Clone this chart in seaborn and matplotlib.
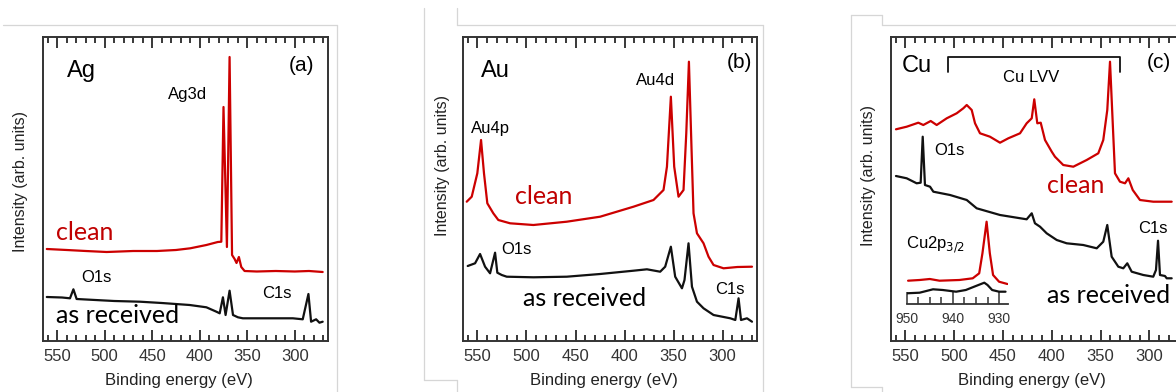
import matplotlib
matplotlib.use("Agg")
import matplotlib.pyplot as plt
import seaborn as sns
from matplotlib.lines import Line2D
from matplotlib.ticker import MultipleLocator, FixedLocator

# Estilo general
sns.set_style("ticks")
plt.rcParams['font.family'] = ['Liberation Sans', 'DejaVu Sans']
plt.rcParams.update({
    'xtick.top': True, 'xtick.bottom': True, 'xtick.direction': 'in',
    'xtick.major.size': 8, 'xtick.minor.size': 4.5,
    'xtick.major.width': 1.1, 'xtick.minor.width': 1.1,
    'xtick.color': '#333333', 'xtick.major.pad': 6, 'xtick.labelsize': 12,
})

ROJO = '#cc0000'
NEGRO = '#111111'
GRIS = '#333333'

# ---- datos (energia de enlace eV, intensidad u.a.) ----
ag_clean_e = [561, 540, 520, 498, 470, 445, 425, 410, 393, 381, 377.3, 375, 371.4,
              368.6, 366, 363.3, 361.3, 358.8, 356.3, 352.8, 340, 320, 300, 285, 270.6]
ag_clean_i = [92, 91, 90, 89, 90, 90, 91, 92.7, 96, 99, 99.3, 234, 94,
              284, 86, 82, 78, 84, 74, 70, 69.5, 70, 69.5, 70, 69]
ag_recv_e = [561, 545, 536.6, 533, 529.6, 510, 490, 463, 440, 410.6, 393, 382.5, 379,
             375.6, 372.8, 368.6, 365, 359.8, 354.6, 330, 302, 291.6, 285.6, 282.8,
             277.5, 274, 270.6]
ag_recv_i = [44, 43.5, 42.7, 51.7, 42, 41, 40, 39.3, 38, 36, 33.7, 29.3, 27.7,
             43.7, 26, 50.3, 26, 23.7, 22.7, 22.7, 22.7, 21.7, 47, 19.3,
             21.7, 18.3, 19.3]

au_clean_e = [560.9, 555.8, 550.1, 546.3, 543.3, 539.9, 533.8, 528.7, 516.7, 493,
              458.9, 424.9, 390.9, 370.5, 360.3, 356.8, 352.8, 349.4, 345, 339.9,
              337.1, 334.4, 331.7, 329.7, 326.2, 319.5, 314.4, 309.3, 299.1, 285, 270.1]
au_clean_i = [139.3, 144.3, 167.7, 201, 167.7, 137.7, 127.7, 121, 117.7, 116,
              119.3, 124.3, 134.3, 141, 151, 174.3, 244.3, 174.3, 144.3, 151,
              207.7, 279.3, 191, 127.7, 107.7, 97.7, 84.3, 76, 72.7, 74, 74.3]
au_recv_e = [559.9, 552.4, 547.3, 542.2, 537.1, 532, 529.7, 525.2, 520.1, 492.9,
             458.9, 424.9, 390.9, 377.2, 363.7, 358.6, 352.8, 348.4, 341.5, 338.9,
             334.8, 331.3, 326.2, 319.5, 309.3, 292.2, 287.1, 283.8, 281.3, 275.2, 270.1]
au_recv_i = [75, 77.7, 87, 74.3, 67.7, 88.3, 68.3, 66, 64.3, 63.7,
             64.3, 67, 70.3, 71.7, 69.3, 74.3, 94.3, 64.3, 52.7, 61,
             97.7, 54.3, 39.3, 32.7, 26, 22.7, 21, 42.7, 21, 22.7, 19.3]

cu_clean_e = [559.6, 548.6, 536.7, 531.6, 524, 517.9, 507.6, 497.4, 490.6, 487.1,
              482, 478.6, 473.5, 463.3, 453, 444.5, 432.5, 425.7, 420.5, 417.9,
              414.8, 411.3, 406.9, 400, 396.7, 388.2, 377.9, 364.2, 352.3, 347.2,
              343.1, 340.3, 337.5, 335.2, 330.1, 324.9, 321.5, 317, 309.6, 296, 277.1]
cu_clean_i = [211.7, 214.3, 218.3, 216, 220, 216, 222.7, 227.7, 232.7, 236,
              231, 217.7, 207.7, 204.3, 198.3, 202.7, 207.7, 217.7, 222.7, 241.7,
              217.7, 218.3, 201, 189.3, 184.3, 176, 174.3, 181, 187.7, 201,
              231, 279.3, 217.7, 167.7, 159.3, 157.7, 162.7, 151, 141, 139.3, 139.3]
cu_recv_e = [559.6, 548.6, 538.4, 534.3, 532.2, 529.9, 524.7, 521.3, 504.2, 487.1,
             476.9, 453, 425.7, 420.5, 417.2, 412, 405.2, 394.9, 384.7, 367.7,
             353.9, 347.2, 343.1, 338.6, 331.8, 326.7, 322.6, 318.1, 306.2, 296,
             293.2, 291.1, 289.1, 284, 282.2, 277.1]
cu_recv_i = [165, 162.7, 157.7, 158.3, 204.3, 156, 154.3, 149.3, 146, 141,
             132.7, 126, 121.7, 127.7, 117.7, 114.3, 107.7, 101, 97.7, 96,
             92.7, 99.3, 116, 84.3, 74.3, 72.7, 77.7, 69.3, 66, 64.3,
             71, 100.3, 66, 65, 62.7, 62.7]

# inset Cu2p3/2
cu2p_e = [949.7, 947.2, 945, 942.9, 938.6, 935.7, 934.3, 933.6, 932.7, 932, 931.3, 930, 928.2]
cu2p_clean_i = [23.3, 24, 25, 23.3, 24, 25.7, 30.7, 50.7, 82.3, 50.7, 29, 22.3, 20]
cu2p_recv_e = [950, 947.2, 944.3, 942.2, 939.3, 937.2, 935.4, 933.2, 932.5, 931.5, 930, 928.6]
cu2p_recv_i = [10.7, 11.3, 14.7, 14, 12.3, 14, 17.3, 21.3, 19, 14, 12.3, 12.3]

main_ticks = [550, 500, 450, 400, 350, 300]
inset_ticks = [950, 940, 930]


def px(x, y):
    return x / 1176, 1 - y / 392


def rect(x0, ancho):
    l, b = px(x0, 341)
    return [l, b, ancho / 1176, 304 / 392]


def curva(ax, e, i, color):
    sns.lineplot(x=e, y=i, ax=ax, color=color, linewidth=1.6,
                 estimator=None, sort=False)


def formato(ax):
    ax.set_xlim(565, 265)
    ax.set_ylim(0, 304)
    ax.xaxis.set_major_locator(FixedLocator(main_ticks))
    ax.xaxis.set_minor_locator(MultipleLocator(10))
    ax.set_yticks([])
    ax.set_xlabel('')
    ax.set_ylabel('')
    for s in ax.spines.values():
        s.set_color(GRIS)
        s.set_linewidth(1.4)


def marcas(fig, r):
    # capa transparente encima del panel, solo con las graduaciones
    ov = fig.add_axes(r, zorder=10)
    ov.patch.set_alpha(0)
    ov.set_xlim(565, 265)
    ov.set_ylim(0, 1)
    ov.xaxis.set_major_locator(FixedLocator(main_ticks))
    ov.xaxis.set_minor_locator(MultipleLocator(10))
    ov.set_yticks([])
    for s in ov.spines.values():
        s.set_visible(False)
    ov.tick_params(axis='x', which='both', direction='in', top=True, bottom=True,
                   labelbottom=False, labeltop=False, color=GRIS, width=1.1)
    ov.tick_params(axis='x', which='major', length=8)
    ov.tick_params(axis='x', which='minor', length=4.5)


def txt(ax, x, y, s, size=12, color='black', ha='left', family=None):
    kw = {}
    if family:
        kw['family'] = family
    ax.text(x, y, s, fontsize=size, color=color, ha=ha, va='baseline', **kw)


fig = plt.figure(figsize=(11.76, 3.92), dpi=100)
calibri = ['Lato', 'DejaVu Sans']

r_a = rect(43, 285)
r_b = rect(462.7, 294.3)
r_c = rect(890.7, 292.8)

# (a) Ag
ax_a = fig.add_axes(r_a)
curva(ax_a, ag_clean_e, ag_clean_i, ROJO)
curva(ax_a, ag_recv_e, ag_recv_i, NEGRO)
formato(ax_a)
txt(ax_a, 540, 264, 'Ag', size=17)
txt(ax_a, 279, 270, '(a)', size=15, ha='right')
txt(ax_a, 433, 242, 'Ag3d')
txt(ax_a, 551, 101, 'clean', size=18, color='#c00000', family=calibri)
txt(ax_a, 525, 59, 'O1s')
txt(ax_a, 334, 43, 'C1s')
txt(ax_a, 551, 18, 'as received', size=18, family=calibri)

# (b) Au
ax_b = fig.add_axes(r_b)
curva(ax_b, au_clean_e, au_clean_i, ROJO)
curva(ax_b, au_recv_e, au_recv_i, NEGRO)
formato(ax_b)
txt(ax_b, 546.6, 264, 'Au', size=17)
txt(ax_b, 270, 272.7, '(b)', size=15, ha='right')
txt(ax_b, 388, 256, 'Au4d')
txt(ax_b, 557, 208, 'Au4p')
txt(ax_b, 511.6, 137, 'clean', size=18, color='#c00000', family=calibri)
txt(ax_b, 526, 87, 'O1s')
txt(ax_b, 308, 47, 'C1s')
txt(ax_b, 504, 35, 'as received', size=18, family=calibri)

# (c) Cu
ax_c = fig.add_axes(r_c)
curva(ax_c, cu_clean_e, cu_clean_i, ROJO)
curva(ax_c, cu_recv_e, cu_recv_i, NEGRO)
formato(ax_c)
txt(ax_c, 553.7, 269, 'Cu', size=17)
txt(ax_c, 278, 272.7, '(c)', size=15, ha='right')
ax_c.plot([506.6, 506.6, 330, 330], [269.3, 283.7, 283.7, 269.3], color=NEGRO, linewidth=1.3)
txt(ax_c, 449.6, 259.3, 'Cu LVV')
txt(ax_c, 520.3, 186, 'O1s')
txt(ax_c, 404.5, 148.3, 'clean', size=18, color='#c00000', family=calibri)
txt(ax_c, 311.3, 107.7, 'C1s')
txt(ax_c, 404.5, 37.7, 'as received', size=18, family=calibri)
txt(ax_c, 549.3, 92.7, 'Cu2p$_{3/2}$')

# inset Cu2p3/2
li, bi = px(906.7, 304)
axi = fig.add_axes([li, bi, 101.6 / 1176, 90 / 392])
axi.patch.set_alpha(0)
curva(axi, cu2p_e, cu2p_clean_i, ROJO)
curva(axi, cu2p_recv_e, cu2p_recv_i, NEGRO)
axi.set_xlim(950, 928)
axi.set_ylim(0, 90)
for s in ['left', 'right', 'top']:
    axi.spines[s].set_visible(False)
axi.spines['bottom'].set_color(GRIS)
axi.spines['bottom'].set_linewidth(1.3)
axi.xaxis.set_major_locator(FixedLocator(inset_ticks))
axi.xaxis.set_minor_locator(MultipleLocator(2.5))
axi.set_yticks([])
axi.tick_params(axis='x', which='both', top=False, labelsize=10)
axi.tick_params(axis='x', which='major', length=9)
axi.tick_params(axis='x', which='minor', length=5)
axi.set_xlabel('')
axi.set_ylabel('')

# graduaciones de los tres paneles
for r in (r_a, r_b, r_c):
    marcas(fig, r)

# marcos grises de la captura
lineas = [
    [(3, 25), (337, 25)], [(337, 25), (337, 392)],
    [(424, 8), (424, 380)], [(424, 380), (457, 380)], [(457, 380), (457, 392)],
    [(457, 8), (457, 25)], [(457, 25), (763, 25)], [(763, 25), (763, 392)],
    [(850.7, 15), (850.7, 387)], [(850.7, 15), (882, 15)], [(882, 15), (882, 25)],
    [(882, 25), (1176, 25)], [(850.7, 387), (882, 387)], [(882, 387), (882, 392)],
]
for p, q in lineas:
    x1, y1 = px(*p)
    x2, y2 = px(*q)
    fig.add_artist(Line2D([x1, x2], [y1, y2], color='#d6d6d6', linewidth=0.9))

# etiquetas de ejes
for x, yc in [(20, 181.7), (442.7, 165), (868.3, 175)]:
    fx, fy = px(x, yc)
    fig.text(fx, fy, 'Intensity (arb. units)', rotation=90, ha='center', va='center',
             fontsize=11.5, color='#222222')
for x in [179, 603.7, 1032]:
    fx, fy = px(x, 380)
    fig.text(fx, fy, 'Binding energy (eV)', ha='center', va='center',
             fontsize=12, color='#222222')

fig.savefig('out.png', dpi=100)
